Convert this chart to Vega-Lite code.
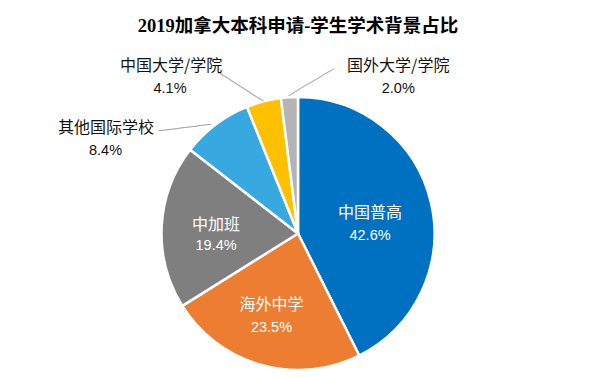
{
  "$schema": "https://vega.github.io/schema/vega-lite/v6.json",
  "width": 596,
  "height": 271,
  "autosize": {"type": "none"},
  "padding": {"left": 0, "top": 98, "right": 3, "bottom": 9},
  "background": "white",
  "view": {"stroke": null},
  "title": {
    "text": "2019加拿大本科申请-学生学术背景占比",
    "font": "Liberation Serif, Noto Sans CJK SC",
    "fontSize": 18.5,
    "fontWeight": "bold",
    "color": "#000000",
    "anchor": "middle",
    "frame": "group",
    "offset": 22
  },
  "data": {
    "values": [
      {"name": "中国普高", "value": 42.6},
      {"name": "海外中学", "value": 23.5},
      {"name": "中加班", "value": 19.4},
      {"name": "其他国际学校", "value": 8.4},
      {"name": "中国大学/学院", "value": 4.1},
      {"name": "国外大学/学院", "value": 2.0}
    ]
  },
  "transform": [
    {"stack": "value", "groupby": [], "sort": [{"field": "value", "order": "descending"}], "as": ["v0", "v1"]},
    {"calculate": "(datum.v0 + datum.v1) / 2", "as": "mid"},
    {"calculate": "format(datum.value, '.1f') + '%'", "as": "pct"}
  ],
  "layer": [
    {
      "mark": {"type": "arc", "outerRadius": 136.5, "stroke": "white", "strokeWidth": 2.5},
      "encoding": {
        "theta": {"field": "v0", "type": "quantitative", "scale": {"domain": [0, 100]}},
        "theta2": {"field": "v1"},
        "color": {
          "field": "name", "type": "nominal", "legend": null,
          "scale": {
            "domain": ["中国普高", "海外中学", "中加班", "其他国际学校", "中国大学/学院", "国外大学/学院"],
            "range": ["#0070C0", "#ED7D31", "#7F7F7F", "#38A8E0", "#FFC000", "#B4B4B4"]
          }
        }
      }
    },
    {
      "transform": [{"filter": "datum.name === '其他国际学校'"}],
      "mark": {"type": "text", "text": "────────", "font": "DejaVu Sans Mono", "fontSize": 11, "color": "#A6A6A6", "radius": 160, "angle": -7.15, "dx": -19.2, "dy": 20.2, "align": "center", "baseline": "middle"},
      "encoding": {"theta": {"field": "mid", "type": "quantitative", "scale": {"domain": [0, 100]}}}
    },
    {
      "transform": [{"filter": "datum.name === '中国大学/学院'"}],
      "mark": {"type": "text", "text": "────────", "font": "DejaVu Sans Mono", "fontSize": 11, "color": "#A6A6A6", "radius": 160, "angle": 32.6, "dx": -9.75, "dy": 16.7, "align": "center", "baseline": "middle"},
      "encoding": {"theta": {"field": "mid", "type": "quantitative", "scale": {"domain": [0, 100]}}}
    },
    {
      "transform": [{"filter": "datum.name === '国外大学/学院'"}],
      "mark": {"type": "text", "text": "────────", "font": "DejaVu Sans Mono", "fontSize": 11, "color": "#A6A6A6", "radius": 160, "angle": -30.7, "dx": 15.8, "dy": 19.8, "align": "center", "baseline": "middle"},
      "encoding": {"theta": {"field": "mid", "type": "quantitative", "scale": {"domain": [0, 100]}}}
    },
    {
      "transform": [{"filter": "datum.name === '中国普高'"}],
      "mark": {"type": "text", "font": "Noto Sans CJK SC", "fontSize": 16, "color": "white", "radius": 73, "dx": 1, "dy": -3.2, "align": "center", "baseline": "middle"},
      "encoding": {"theta": {"field": "mid", "type": "quantitative", "scale": {"domain": [0, 100]}}, "text": {"field": "name"}}
    },
    {
      "transform": [{"filter": "datum.name === '中国普高'"}],
      "mark": {"type": "text", "font": "Liberation Sans", "fontSize": 14.5, "color": "white", "radius": 73, "dx": 1, "dy": 19.3, "align": "center", "baseline": "middle"},
      "encoding": {"theta": {"field": "mid", "type": "quantitative", "scale": {"domain": [0, 100]}}, "text": {"field": "pct"}}
    },
    {
      "transform": [{"filter": "datum.name === '海外中学'"}],
      "mark": {"type": "text", "font": "Noto Sans CJK SC", "fontSize": 16, "color": "white", "radius": 87, "dx": -3, "dy": -12.7, "align": "center", "baseline": "middle"},
      "encoding": {"theta": {"field": "mid", "type": "quantitative", "scale": {"domain": [0, 100]}}, "text": {"field": "name"}}
    },
    {
      "transform": [{"filter": "datum.name === '海外中学'"}],
      "mark": {"type": "text", "font": "Liberation Sans", "fontSize": 14.5, "color": "white", "radius": 87, "dx": -3, "dy": 11, "align": "center", "baseline": "middle"},
      "encoding": {"theta": {"field": "mid", "type": "quantitative", "scale": {"domain": [0, 100]}}, "text": {"field": "pct"}}
    },
    {
      "transform": [{"filter": "datum.name === '中加班'"}],
      "mark": {"type": "text", "font": "Noto Sans CJK SC", "fontSize": 16, "color": "white", "radius": 82, "dx": 0, "dy": -4.7, "align": "center", "baseline": "middle"},
      "encoding": {"theta": {"field": "mid", "type": "quantitative", "scale": {"domain": [0, 100]}}, "text": {"field": "name"}}
    },
    {
      "transform": [{"filter": "datum.name === '中加班'"}],
      "mark": {"type": "text", "font": "Liberation Sans", "fontSize": 14.5, "color": "white", "radius": 82, "dx": 0, "dy": 16.4, "align": "center", "baseline": "middle"},
      "encoding": {"theta": {"field": "mid", "type": "quantitative", "scale": {"domain": [0, 100]}}, "text": {"field": "pct"}}
    },
    {
      "transform": [{"filter": "datum.name === '其他国际学校'"}],
      "mark": {"type": "text", "font": "Noto Sans CJK SC", "fontSize": 16, "color": "#111111", "radius": 160, "dx": -95.5, "dy": 22.3, "align": "center", "baseline": "middle"},
      "encoding": {"theta": {"field": "mid", "type": "quantitative", "scale": {"domain": [0, 100]}}, "text": {"field": "name"}}
    },
    {
      "transform": [{"filter": "datum.name === '其他国际学校'"}],
      "mark": {"type": "text", "font": "Liberation Sans", "fontSize": 14.5, "color": "#111111", "radius": 160, "dx": -96, "dy": 44.8, "align": "center", "baseline": "middle"},
      "encoding": {"theta": {"field": "mid", "type": "quantitative", "scale": {"domain": [0, 100]}}, "text": {"field": "pct"}}
    },
    {
      "transform": [{"filter": "datum.name === '中国大学/学院'"}],
      "mark": {"type": "text", "font": "Noto Sans CJK SC", "fontSize": 16, "color": "#111111", "radius": 160, "dx": -86.7, "dy": -12.4, "align": "center", "baseline": "middle"},
      "encoding": {"theta": {"field": "mid", "type": "quantitative", "scale": {"domain": [0, 100]}}, "text": {"field": "name"}}
    },
    {
      "transform": [{"filter": "datum.name === '中国大学/学院'"}],
      "mark": {"type": "text", "font": "Liberation Sans", "fontSize": 14.5, "color": "#111111", "radius": 160, "dx": -87.7, "dy": 10.1, "align": "center", "baseline": "middle"},
      "encoding": {"theta": {"field": "mid", "type": "quantitative", "scale": {"domain": [0, 100]}}, "text": {"field": "pct"}}
    },
    {
      "transform": [{"filter": "datum.name === '国外大学/学院'"}],
      "mark": {"type": "text", "font": "Noto Sans CJK SC", "fontSize": 16, "color": "#111111", "radius": 160, "dx": 110.3, "dy": -8.3, "align": "center", "baseline": "middle"},
      "encoding": {"theta": {"field": "mid", "type": "quantitative", "scale": {"domain": [0, 100]}}, "text": {"field": "name"}}
    },
    {
      "transform": [{"filter": "datum.name === '国外大学/学院'"}],
      "mark": {"type": "text", "font": "Liberation Sans", "fontSize": 14.5, "color": "#111111", "radius": 160, "dx": 110.3, "dy": 15.5, "align": "center", "baseline": "middle"},
      "encoding": {"theta": {"field": "mid", "type": "quantitative", "scale": {"domain": [0, 100]}}, "text": {"field": "pct"}}
    }
  ]
}
